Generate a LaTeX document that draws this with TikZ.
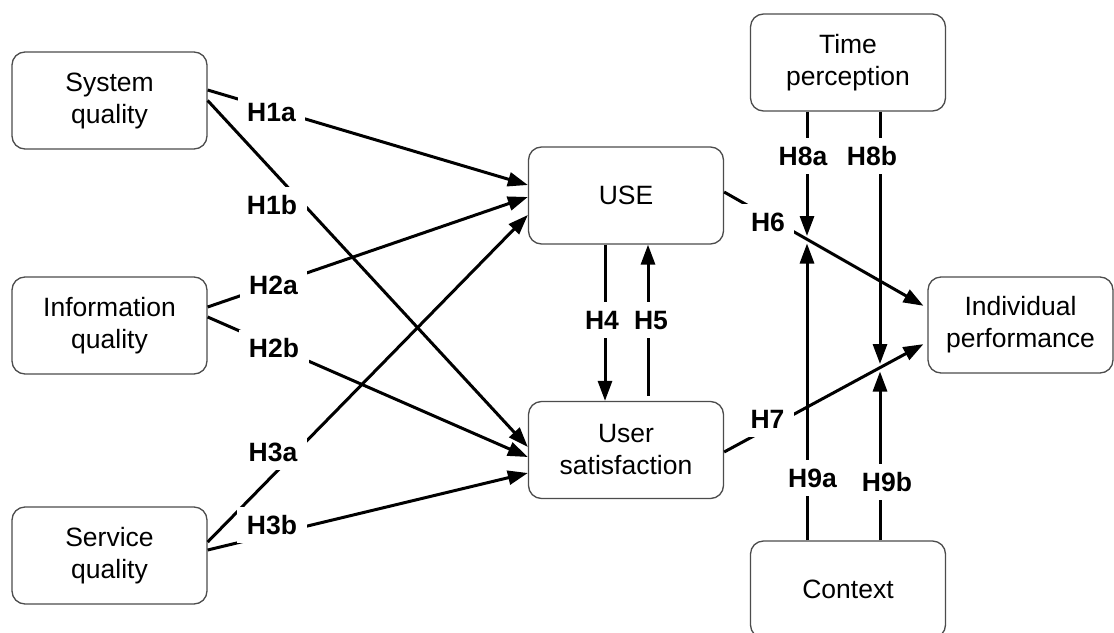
\documentclass[tikz,border=0pt]{standalone}
\usepackage{fontspec}
\setmainfont{Liberation Sans}
\usetikzlibrary{arrows.meta}

\tikzset{
  box/.style={draw=black!70, line width=1.3pt, rounded corners=13pt, fill=white,
    minimum width=195pt, minimum height=97pt, inner sep=0pt, align=center,
    font=\fontsize{26.5pt}{32pt}\selectfont},
  arr/.style={line width=3pt, -{Triangle[length=20pt,width=14pt]}},
  hyp/.style={fill=white, inner xsep=9.5pt, inner ysep=8.5pt, text height=19pt, text depth=0pt,
    font=\fontsize{26.5pt}{32pt}\selectfont\bfseries},
}

\begin{document}
\begin{tikzpicture}[x=1pt, y=-1pt]
  \clip (0,0) rectangle (1114,632);
  \fill[white] (0,0) rectangle (1114,632);

  % constructs
  \node[box] (sq)   at (109.5,100.5) {System\\quality};
  \node[box] (info) at (109.5,325.5) {Information\\quality};
  \node[box] (serv) at (109.5,555.5) {Service\\quality};
  \node[box] (use)  at (626,195.5)   {USE};
  \node[box] (usat) at (626,450)     {User\\satisfaction};
  \node[box] (time) at (848,62.5)    {Time\\perception};
  \node[box] (ctx)  at (848,589.5)   {Context};
  \node[box, minimum width=185pt, minimum height=96pt] (ind) at (1020.5,325) {Individual\\performance};

  % points where the moderating paths meet H6 and H7
  \coordinate (m6) at (807,240);
  \coordinate (m7) at (880,368);

  % quality -> use / satisfaction
  \draw[arr] ([yshift=10.5pt]sq.east) -- ([yshift=10.5pt]use.west);
  \draw[arr] (sq.east) -- ([yshift=3pt]usat.west);
  \draw[arr] ([yshift=18.5pt]info.east) -- ([yshift=-1.5pt]use.west);
  \draw[arr] ([yshift=8.5pt]info.east) -- ([yshift=-7pt]usat.west);
  \draw[arr] ([yshift=13.5pt]serv.east) -- ([yshift=-19.5pt]use.west);
  \draw[arr] ([yshift=5.5pt]serv.east) -- ([yshift=-23pt]usat.west);

  % use <-> satisfaction
  \draw[arr] ([xshift=-21pt]use.south) -- ([xshift=-21pt]usat.north);
  \draw[arr, shorten <=5pt] ([xshift=22pt]usat.north) -- ([xshift=22pt]use.south);

  % to individual performance
  \draw[arr, shorten >=4.5pt] ([yshift=3.5pt]use.east) -- ([yshift=17pt]ind.west);
  \draw[arr, shorten >=4.5pt] ([yshift=-2pt]usat.east) -- ([yshift=-17pt]ind.west);

  % moderators
  \draw[arr, shorten >=4pt] ([xshift=-41pt]time.south) -- (m6);
  \draw[arr, shorten >=3.5pt] ([xshift=-41pt]ctx.north) -- (m6);
  \draw[arr, shorten >=4pt] ([xshift=32pt]time.south) -- (m7);
  \draw[arr, shorten >=3.5pt] ([xshift=32pt]ctx.north) -- (m7);

  % hypothesis labels
  \node[hyp] (h1a) at (271.5,111.5) {H1a};
  \node[hyp] (h1b) at (272,204.5)   {H1b};
  \node[hyp] (h2a) at (273.5,284.5) {H2a};
  \node[hyp] (h2b) at (274,348)     {H2b};
  \node[hyp] (h3a) at (273,451.5)   {H3a};
  \node[hyp] (h3b) at (272,525)     {H3b};
  \node[hyp] (h4)  at (602,320)     {H4};
  \node[hyp] (h5)  at (651,320)     {H5};
  \node[hyp] (h6)  at (768,221.5)   {H6};
  \node[hyp] (h7)  at (767.5,419)   {H7};
  \node[hyp] (h8a) at (803,155.5)   {H8a};
  \node[hyp] (h8b) at (872,155.5)   {H8b};
  \node[hyp] (h9a) at (812.5,477.5) {H9a};
  \node[hyp] (h9b) at (887,482)     {H9b};
\end{tikzpicture}
\end{document}
